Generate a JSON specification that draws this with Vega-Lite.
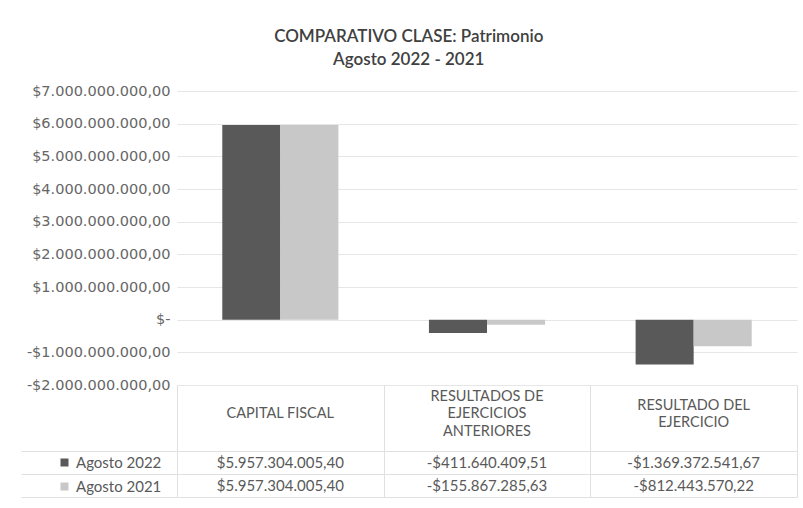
{
  "$schema": "https://vega.github.io/schema/vega-lite/v6.json",
  "autosize": {"type": "pad"},
  "padding": {"left": 20, "top": 28, "right": 6, "bottom": 0},
  "background": "white",
  "bounds": "flush",
  "config": {
    "font": "Lato",
    "view": {"stroke": null},
    "locale": {"number": {"decimal": ",", "thousands": ".", "grouping": [3], "currency": ["$", ""], "minus": "-"}},
    "axis": {"labelColor": "#595959", "gridColor": "#e6e6e6", "domain": false, "ticks": false, "title": null}
  },
  "title": {
    "text": ["COMPARATIVO CLASE: Patrimonio", "Agosto 2022 - 2021"],
    "fontSize": 17,
    "fontWeight": 600,
    "color": "#404040",
    "frame": "bounds",
    "anchor": "middle",
    "offset": 14,
    "lineHeight": 23
  },
  "datasets": {
    "valores": [
      {"categoria": "CAPITAL FISCAL", "periodo": "Agosto 2022", "valor": 5957304005.40},
      {"categoria": "CAPITAL FISCAL", "periodo": "Agosto 2021", "valor": 5957304005.40},
      {"categoria": "RESULTADOS DE EJERCICIOS ANTERIORES", "periodo": "Agosto 2022", "valor": -411640409.51},
      {"categoria": "RESULTADOS DE EJERCICIOS ANTERIORES", "periodo": "Agosto 2021", "valor": -155867285.63},
      {"categoria": "RESULTADO DEL EJERCICIO", "periodo": "Agosto 2022", "valor": -1369372541.67},
      {"categoria": "RESULTADO DEL EJERCICIO", "periodo": "Agosto 2021", "valor": -812443570.22}
    ],
    "encabezados": [
      {"categoria": "CAPITAL FISCAL", "linea": 1, "texto": "CAPITAL FISCAL"},
      {"categoria": "RESULTADOS DE EJERCICIOS ANTERIORES", "linea": 1, "texto": "RESULTADOS DE"},
      {"categoria": "RESULTADOS DE EJERCICIOS ANTERIORES", "linea": 2, "texto": "EJERCICIOS"},
      {"categoria": "RESULTADOS DE EJERCICIOS ANTERIORES", "linea": 3, "texto": "ANTERIORES"},
      {"categoria": "RESULTADO DEL EJERCICIO", "linea": 1, "texto": "RESULTADO DEL"},
      {"categoria": "RESULTADO DEL EJERCICIO", "linea": 2, "texto": "EJERCICIO"}
    ]
  },
  "spacing": 0,
  "vconcat": [
    {
      "width": 620,
      "height": 294,
      "data": {"name": "valores"},
      "mark": {"type": "bar"},
      "encoding": {
        "x": {
          "field": "categoria", "type": "nominal",
          "sort": ["CAPITAL FISCAL", "RESULTADOS DE EJERCICIOS ANTERIORES", "RESULTADO DEL EJERCICIO"],
          "scale": {"paddingInner": 0, "paddingOuter": 0},
          "axis": null
        },
        "xOffset": {
          "field": "periodo", "type": "nominal",
          "sort": ["Agosto 2022", "Agosto 2021"],
          "scale": {"paddingInner": 0, "paddingOuter": 0.78}
        },
        "y": {
          "field": "valor", "type": "quantitative",
          "scale": {"domain": [-2000000000, 7000000000], "nice": false},
          "axis": {
            "values": [-2000000000, -1000000000, 0, 1000000000, 2000000000, 3000000000, 4000000000, 5000000000, 6000000000, 7000000000],
            "format": "$,.2f",
            "labelExpr": "datum.value === 0 ? '$-  ' : datum.label",
            "labelFont": "DejaVu Sans",
            "labelFontSize": 14.5,
            "labelColor": "#666666",
            "labelPadding": 7,
            "grid": true
          }
        },
        "color": {
          "field": "periodo", "type": "nominal",
          "scale": {"domain": ["Agosto 2022", "Agosto 2021"], "range": ["#595959", "#c8c8c8"]},
          "legend": {
            "orient": "none",
            "legendX": -120,
            "legendY": 364,
            "title": null,
            "symbolType": "square",
            "symbolSize": 64,
            "symbolStrokeWidth": 0,
            "labelFontSize": 15,
            "labelColor": "#595959",
            "rowPadding": 8
          }
        }
      }
    },
    {
      "width": 620,
      "height": 66,
      "data": {"name": "encabezados"},
      "transform": [
        {"joinaggregate": [{"op": "max", "field": "linea", "as": "n"}], "groupby": ["categoria"]},
        {"calculate": "datum.linea - (datum.n + 1) / 2", "as": "pos"}
      ],
      "mark": {"type": "text", "fontSize": 14.5, "color": "#595959", "baseline": "middle"},
      "encoding": {
        "x": {
          "field": "categoria", "type": "nominal",
          "sort": ["CAPITAL FISCAL", "RESULTADOS DE EJERCICIOS ANTERIORES", "RESULTADO DEL EJERCICIO"],
          "scale": {"paddingInner": 0, "paddingOuter": 0},
          "axis": {"labels": false, "grid": true, "tickBand": "extent", "gridColor": "#e0e0e0"}
        },
        "y": {
          "field": "pos", "type": "quantitative",
          "scale": {"domain": [-1.64, 2.03], "reverse": true, "nice": false, "zero": false},
          "axis": null
        },
        "text": {"field": "texto", "type": "nominal"}
      }
    },
    {
      "width": 620,
      "height": 46,
      "data": {"name": "valores"},
      "mark": {"type": "text", "fontSize": 15, "color": "#595959", "baseline": "middle"},
      "encoding": {
        "x": {
          "field": "categoria", "type": "nominal",
          "sort": ["CAPITAL FISCAL", "RESULTADOS DE EJERCICIOS ANTERIORES", "RESULTADO DEL EJERCICIO"],
          "scale": {"paddingInner": 0, "paddingOuter": 0},
          "axis": {"labels": false, "grid": true, "tickBand": "extent", "gridColor": "#e0e0e0"}
        },
        "y": {
          "field": "periodo", "type": "nominal",
          "sort": ["Agosto 2022", "Agosto 2021"],
          "scale": {"paddingInner": 0, "paddingOuter": 0},
          "axis": {"labels": false, "grid": true, "tickBand": "extent", "ticks": true, "tickSize": 156, "tickColor": "#e0e0e0", "gridColor": "#e0e0e0"}
        },
        "text": {"field": "valor", "type": "quantitative", "format": "$,.2f"}
      }
    }
  ]
}
